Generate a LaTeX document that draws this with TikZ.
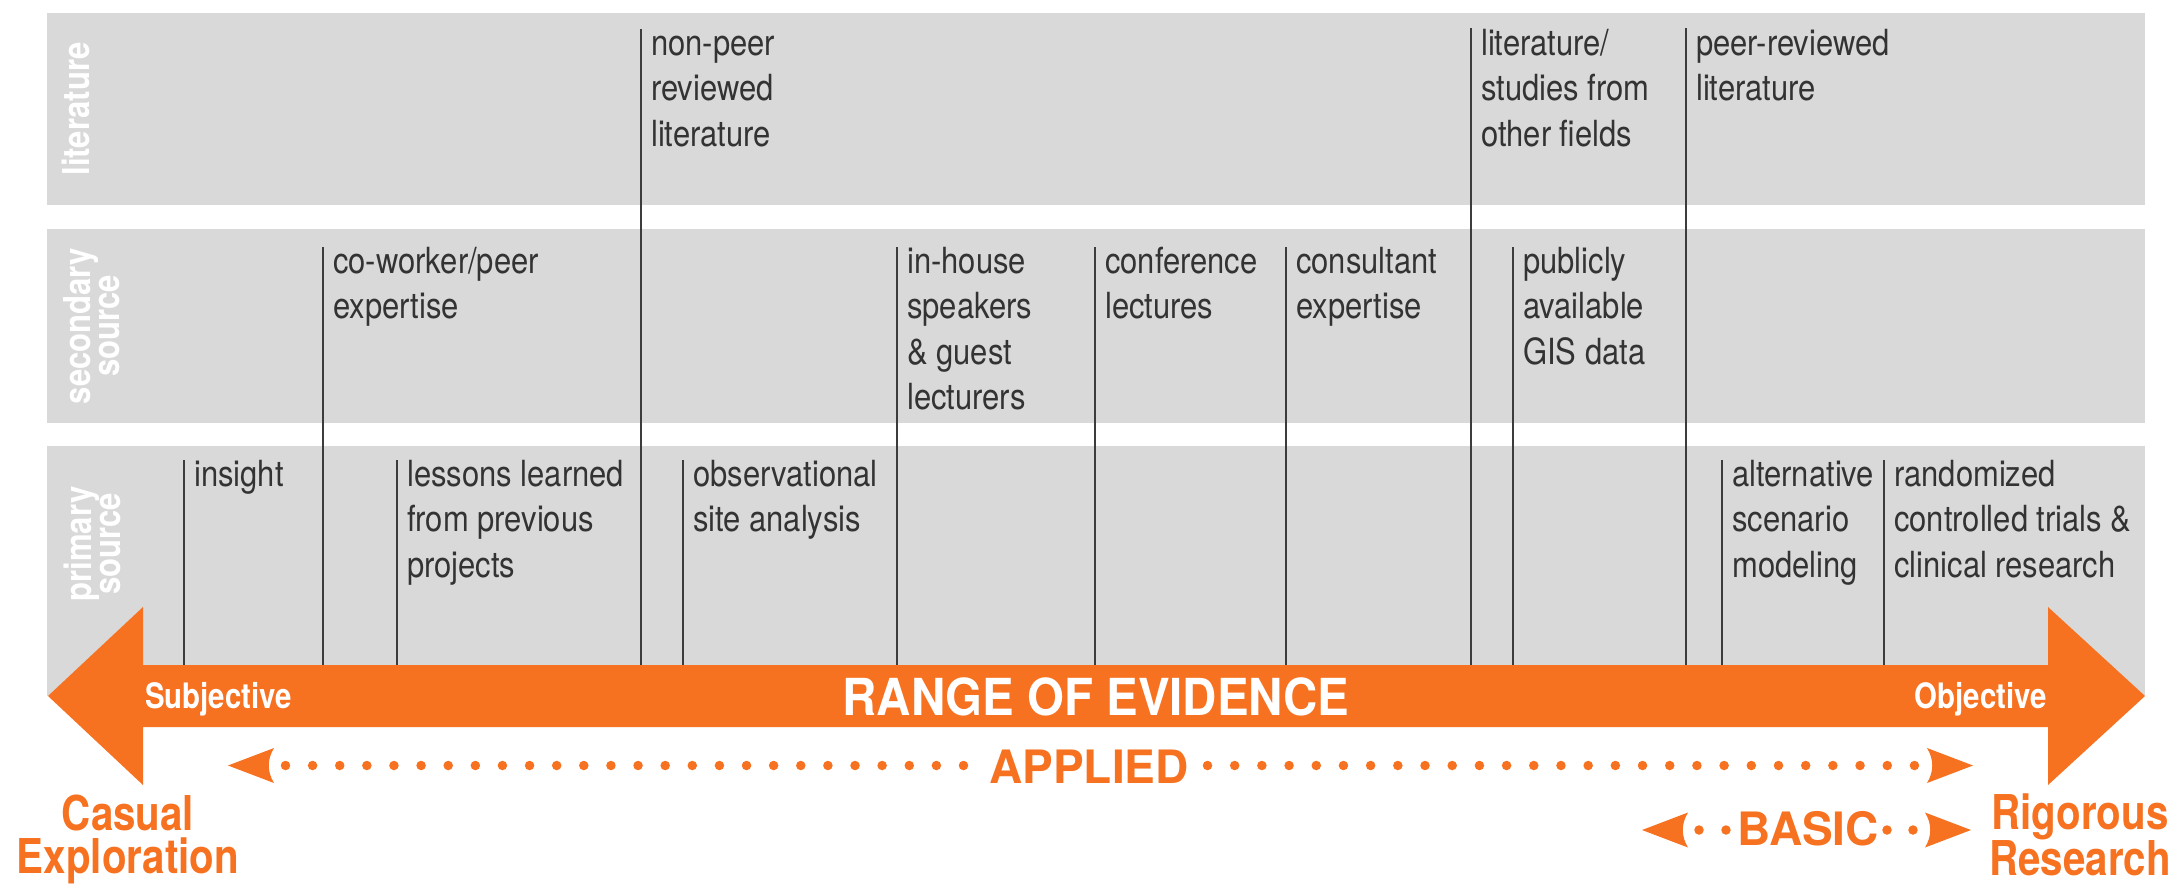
\documentclass[tikz,border=0pt]{standalone}
\usepackage{fontspec}
\setmainfont{TeX Gyre Heros}
\newfontfamily\condfont{TeX Gyre Heros}[FakeStretch=0.86]
\newfontfamily\condbfont{TeX Gyre Heros}[FakeStretch=0.84]
\newfontfamily\rangefont{TeX Gyre Heros}[FakeStretch=0.93]
\definecolor{evorange}{RGB}{246,114,33}
\definecolor{bandgray}{RGB}{217,217,217}
\definecolor{labeltext}{RGB}{51,51,51}
\definecolor{tickline}{RGB}{60,60,60}
\tikzset{
  band/.style={fill=bandgray},
  rowlab/.style={rotate=90, inner sep=0pt, align=center, text=white,
    font={\condbfont\bfseries\fontsize{37}{29}\selectfont}},
  lab/.style={anchor=north west, inner sep=0pt, align=left, text=labeltext,
    font={\condfont\fontsize{36}{45.5}\selectfont}},
  tick/.style={draw=tickline, line width=2.2pt},
  arrowtxt/.style={inner sep=0pt, text=white,
    font={\condbfont\bfseries\fontsize{35}{40}\selectfont}},
  endtxt/.style={anchor=north, inner sep=0pt, align=center, text=evorange,
    font={\condbfont\bfseries\fontsize{48}{43}\selectfont}},
  scaletxt/.style={anchor=base, inner sep=0pt, text=evorange,
    font={\bfseries\fontsize{46}{50}\selectfont}},
  dotline/.style={draw=evorange, line width=9.5pt, line cap=round},
  dothead/.pic={\fill[evorange] (0,0) -- (46,-17.5) .. controls (39,-6) and (39,6) .. (46,17.5) -- cycle;}
}
\newcommand{\topstrut}{\rule{0pt}{40pt}}
\begin{document}
\begin{tikzpicture}[x=1pt,y=-1pt]
\useasboundingbox (0,0) rectangle (2176,884);
\fill[white] (0,0) rectangle (2176,884);
% bands
\fill[band] (47,13) rectangle (2145,205);
\fill[band] (47,229) rectangle (2145,423);
\fill[band] (47,446) rectangle (2145,696);
% row labels
\node[rowlab] (litlab) at (75.5,109) {literature};
\node[rowlab] (seclab) at (92,326) {secondary\\source};
\node[rowlab] (prilab) at (92,544) {primary\\source};
% arrow top reference
\coordinate (atop) at (0,668);
% tick tops
\coordinate (t1) at (184,460);
\coordinate (t2) at (323,247);
\coordinate (t3) at (397,460);
\coordinate (t4) at (641,29);
\coordinate (t5) at (683,460);
\coordinate (t6) at (897,247);
\coordinate (t7) at (1095,247);
\coordinate (t8) at (1286,247);
\coordinate (t9) at (1471,28);
\coordinate (t10) at (1513,247);
\coordinate (t11) at (1686,28);
\coordinate (t12) at (1722,460);
\coordinate (t13) at (1884,460);
\foreach \i in {1,...,13} \draw[tick] (t\i) -- (t\i |- atop);
% labels
\node[lab] (l1) at (194,446) {\topstrut insight};
\node[lab] (l2) at (333,233) {\topstrut co-worker/peer\\expertise};
\node[lab] (l3) at (407,446) {\topstrut lessons learned\\from previous\\projects};
\node[lab] (l4) at (651,15) {\topstrut non-peer\\reviewed\\literature};
\node[lab] (l5) at (693,446) {\topstrut observational\\site analysis};
\node[lab] (l6) at (907,233) {\topstrut in-house\\speakers\\\& guest\\lecturers};
\node[lab] (l7) at (1105,233) {\topstrut conference\\lectures};
\node[lab] (l8) at (1296,233) {\topstrut consultant\\expertise};
\node[lab] (l9) at (1481,15) {\topstrut literature/\\studies from\\other fields};
\node[lab] (l10) at (1523,233) {\topstrut publicly\\available\\GIS data};
\node[lab] (l11) at (1696,15) {\topstrut peer-reviewed\\literature};
\node[lab] (l12) at (1732,446) {\topstrut alternative\\scenario\\modeling};
\node[lab] (l13) at (1894,446) {\topstrut randomized\\controlled trials \&\\clinical research};
% big arrow
\fill[evorange] (48,696) -- (143,607) -- (143,665) -- (2048,665) -- (2048,607)
  -- (2145,696) -- (2048,785) -- (2048,727) -- (143,727) -- (143,785) -- cycle;
\node[arrowtxt, anchor=base west] (subj) at (145,708) {Subjective};
\node[arrowtxt, anchor=base east] (obj) at (2047,708) {Objective};
\node[inner sep=0pt, anchor=base, text=white,
  font={\rangefont\bfseries\fontsize{51}{56}\selectfont}] (range) at (1096,715) {RANGE OF EVIDENCE};
% ends
\node[endtxt] (casual) at (128,790) {\topstrut Casual\\Exploration};
\node[endtxt] (rigor) at (2080,789) {\topstrut Rigorous\\Research};
% applied
\node[scaletxt] (applied) at (1089,783) {APPLIED};
\coordinate (a1) at (285.5,765.5);
\coordinate (a2) at (964,765.5);
\coordinate (a3) at (1207.5,765.5);
\coordinate (a4) at (1915,765.5);
\draw[dotline, dash pattern=on 0pt off 27.12pt] (a1) -- (a2);
\draw[dotline, dash pattern=on 0pt off 27.19pt] (a3) -- (a4);
\pic at (228,765.5) {dothead};
\pic[xscale=-1] at (1973,765.5) {dothead};
% basic
\node[scaletxt] (basic) at (1808,845) {BASIC};
\coordinate (b1) at (1699,830);
\coordinate (b2) at (1726,830);
\coordinate (b3) at (1887,830);
\coordinate (b4) at (1913,830);
\draw[dotline, dash pattern=on 0pt off 26.98pt] (b1) -- (b2);
\draw[dotline, dash pattern=on 0pt off 25.98pt] (b3) -- (b4);
\pic at (1642,830) {dothead};
\pic[xscale=-1] at (1971,830) {dothead};
\end{tikzpicture}
\end{document}
